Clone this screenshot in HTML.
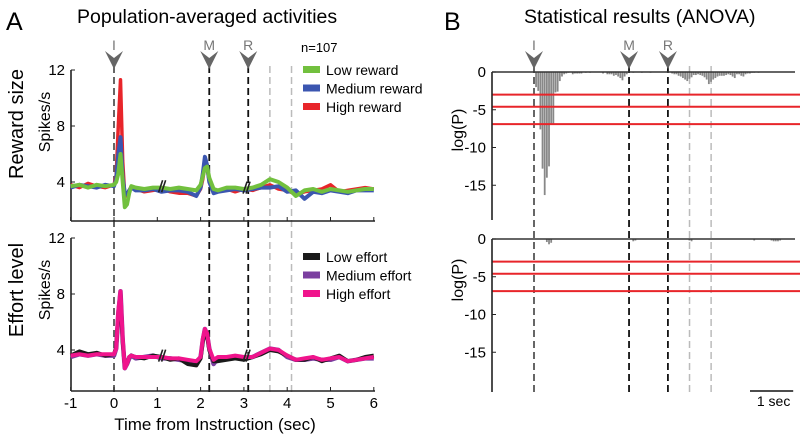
<!DOCTYPE html>
<html><head><meta charset="utf-8"><style>
body{margin:0;background:#fff;width:800px;height:438px;overflow:hidden}
svg{font-family:"Liberation Sans",sans-serif}
</style></head><body>
<svg id="fig" width="800" height="438" viewBox="0 0 800 438"></svg>
<script>
const times=[-1,-0.8,-0.6,-0.4,-0.2,0,0.05,0.1,0.15,0.2,0.25,0.3,0.35,0.4,0.5,0.7,0.9,1.1,1.3,1.5,1.7,1.9,2.0,2.05,2.1,2.15,2.2,2.3,2.4,2.6,2.8,3.0,3.2,3.4,3.6,3.8,4.0,4.2,4.4,4.6,4.8,5.0,5.2,5.4,5.6,5.8,6.0];
const lowReward=[3.7,3.8,3.6,3.8,3.7,3.8,4.0,4.6,6.0,4.0,2.2,2.4,3.2,3.7,3.6,3.5,3.6,3.6,3.5,3.6,3.5,3.4,3.8,4.4,5.0,5.1,4.3,3.5,3.4,3.6,3.6,3.5,3.6,3.8,4.2,4.0,3.6,3.0,3.4,3.5,3.3,3.5,3.4,3.3,3.4,3.5,3.5];
const medReward=[3.6,3.8,3.7,3.6,3.8,3.7,4.2,6.0,7.2,4.3,3.2,3.1,3.4,3.6,3.4,3.4,3.5,3.3,3.4,3.4,3.3,3.0,3.6,4.6,5.8,5.2,4.0,3.2,3.3,3.4,3.5,3.4,3.5,3.6,3.6,3.7,3.3,3.4,2.8,3.3,3.2,3.4,3.3,3.2,3.4,3.4,3.4];
const highReward=[3.8,3.6,3.9,3.7,3.6,3.8,4.5,8.0,11.3,5.5,3.0,3.0,3.4,3.7,3.5,3.3,3.4,3.5,3.3,3.2,3.2,3.0,3.5,4.2,5.2,5.0,4.0,3.3,3.4,3.5,3.3,3.5,3.4,3.6,3.8,3.5,3.4,3.1,3.3,3.4,3.5,3.8,3.3,3.4,3.5,3.6,3.5];
const lowEffort=[3.6,3.9,3.7,3.8,3.6,3.7,4.2,6.5,8.0,4.6,2.8,3.0,3.5,3.6,3.5,3.4,3.6,3.5,3.3,3.4,3.0,2.9,3.4,4.6,5.4,5.0,4.0,3.2,3.2,3.3,3.4,3.3,3.5,3.7,4.0,3.9,3.6,3.3,3.3,3.5,3.2,3.4,3.6,3.2,3.3,3.5,3.6];
const medEffort=[3.5,3.7,3.6,3.7,3.6,3.6,4.1,6.6,8.2,4.7,2.7,3.0,3.4,3.6,3.4,3.5,3.6,3.4,3.4,3.3,3.2,3.1,3.5,4.7,5.5,5.1,4.1,3.0,3.4,3.4,3.5,3.4,3.5,3.8,4.1,4.0,3.5,3.3,3.3,3.4,3.3,3.3,3.5,3.2,3.3,3.4,3.4];
const highEffort=[3.6,3.7,3.6,3.7,3.7,3.7,4.1,6.8,8.2,4.8,2.7,3.0,3.5,3.6,3.5,3.5,3.5,3.5,3.4,3.4,3.3,3.2,3.5,4.8,5.5,5.2,4.1,3.3,3.5,3.5,3.6,3.5,3.5,3.8,4.1,4.0,3.6,3.3,3.4,3.5,3.3,3.4,3.5,3.2,3.3,3.4,3.5];
const yTicks=[4,8,12];
const xTicks=[-1,0,1,2,3,4,5,6];
const pTicks=[0,-5,-10,-15];
const thresholds=[-3,-4.6,-6.9];
const rewardBarTimes=[0.05,0.1,0.15,0.2,0.25,0.3,0.35,0.4,0.45,0.5,0.55,0.6,0.65,0.7,0.75,0.8,0.9,0.95,1.0,1.05,1.1,1.2,1.3,1.6,1.7,1.75,1.8,1.85,1.9,1.95,2.0,2.05,2.1,2.15,2.3,2.5,2.7,3.1,3.2,3.25,3.3,3.35,3.4,3.45,3.5,3.55,3.6,3.65,3.7,3.75,3.8,3.85,3.9,3.95,4.0,4.05,4.1,4.15,4.2,4.25,4.3,4.35,4.4,4.45,4.5,4.55,4.6,4.65,4.7,4.75,4.8,4.85,4.9,4.95,5.0,5.05,5.1,5.2];
const rewardBarVals=[-2,-2.5,-7.6,-12.8,-16.3,-14,-12.5,-7,-6.9,-2.7,-2.6,-1.2,-0.6,-0.3,-0.2,-0.1,-0.3,-0.2,-0.2,-0.2,-0.2,-0.1,-0.1,-0.2,-0.3,-0.3,-0.3,-0.5,-0.4,-0.6,-0.8,-1.1,-0.6,-0.3,-0.1,-0.1,-0.1,-0.1,-0.2,-0.3,-0.3,-0.5,-0.6,-0.8,-1.0,-1.2,-0.9,-0.7,-0.4,-0.4,-0.3,-0.4,-0.5,-0.7,-1.0,-1.6,-1.3,-1.0,-0.8,-0.6,-0.5,-0.5,-0.5,-0.4,-0.3,-0.4,-0.6,-0.8,-0.3,-0.3,-0.5,-0.6,-0.3,-0.2,-0.2,-0.1,-0.1,-0.1];
const effortBarTimes=[0.3,0.35,0.4,2.3,2.35,3.6,3.65,5.1,5.5,5.55,5.6,5.65,5.7];
const effortBarVals=[-0.4,-0.7,-0.5,-0.3,-0.2,-0.2,-0.3,-0.2,-0.2,-0.3,-0.3,-0.3,-0.2];
const events=[{t:0,l:"I",c:"#555"},{t:2.2,l:"M",c:"#111"},{t:3.1,l:"R",c:"#111"}];
const grayEvents=[3.6,4.1];

const svg=document.getElementById('fig');
const NS="http://www.w3.org/2000/svg";
function el(tag,attrs,parent){const e=document.createElementNS(NS,tag);for(const k in attrs)e.setAttribute(k,attrs[k]);(parent||svg).appendChild(e);return e;}
function txt(s,attrs,parent){const e=el('text',attrs,parent);e.textContent=s;return e;}
const xL=t=>114+t*43.3;
const xR=t=>534+t*43.2;
const yTop=v=>182-(v-4)*14;
const yBot=v=>350-(v-4)*14;
const pT=v=>72-v*7.55;
const pB=v=>239-v*7.55;

let t;
t=txt("A",{x:6,y:30,'font-size':25});
t=txt("Population-averaged activities",{x:77,y:23,'font-size':19.5});
t=txt("B",{x:444,y:30,'font-size':25});
t=txt("Statistical results (ANOVA)",{x:524,y:23,'font-size':19.5});

t=txt("Reward size",{x:0,y:0,'font-size':20,'text-anchor':'middle',transform:'translate(23,124) rotate(-90)'});
t=txt("Effort level",{x:0,y:0,'font-size':20,'text-anchor':'middle',transform:'translate(23,290) rotate(-90)'});
[[122,'spikes-label-top'],[290,'spikes-label-bottom']].forEach(([cy,n])=>{
 const s=txt("Spikes/s",{x:0,y:0,'font-size':16,'text-anchor':'middle',transform:`translate(50,${cy}) rotate(-90)`});
 });
[[130,'logp-label-top'],[280,'logp-label-bottom']].forEach(([cy,n])=>{
 const s=txt("log(P)",{x:0,y:0,'font-size':16,'text-anchor':'middle',transform:`translate(463,${cy}) rotate(-90)`});
 });

function vlines(xf,y1,y2){
 events.forEach(e=>{const l=el('line',{x1:xf(e.t),x2:xf(e.t),y1:y1,y2:y2,stroke:e.c,'stroke-width':1.8,'stroke-dasharray':'7,4'});
  });
 grayEvents.forEach(g=>{const l=el('line',{x1:xf(g),x2:xf(g),y1:y1,y2:y2,stroke:'#bbb','stroke-width':1.5,'stroke-dasharray':'7,4'});
  });
}
vlines(xL,66,392);
vlines(xR,66,392);
function arrows(xf){
 events.forEach(e=>{const x=xf(e.t);
  const a=el('path',{d:`M${x-9},51 L${x},58 L${x+9},51 L${x},69 Z`,fill:'#666'});
  
  const s=txt(e.l,{x:x,y:50,'font-size':14,'text-anchor':'middle',fill:'#777'});
  });
}
arrows(xL);arrows(xR);

function leftAxes(yf,top,bottom,name){
 const g=el('g',{});
 el('line',{x1:71,x2:71,y1:top,y2:bottom,stroke:'#222','stroke-width':1.6},g);
 el('line',{x1:71,x2:375,y1:bottom,y2:bottom,stroke:'#222','stroke-width':1.6},g);
 yTicks.forEach(v=>{el('line',{x1:71,x2:75,y1:yf(v),y2:yf(v),stroke:'#222'},g);
  const s=txt(String(v),{x:65,y:yf(v)+5,'font-size':15,'text-anchor':'end'},g);
  });
 xTicks.forEach(v=>el('line',{x1:xL(v),x2:xL(v),y1:bottom,y2:bottom-4,stroke:'#222'},g));
}
leftAxes(yTop,70,221,'reward-axes');
leftAxes(yBot,238,391,'effort-axes');
xTicks.forEach(v=>{const s=txt(String(v),{x:xL(v),y:408,'font-size':15,'text-anchor':'middle'});
 });
t=txt("Time from Instruction (sec)",{x:215,y:430,'font-size':17,'text-anchor':'middle'});

function trace(vals,yf,color,name,w){
 const d=vals.map((v,i)=>(i?'L':'M')+xL(times[i]).toFixed(1)+','+yf(v).toFixed(1)).join(' ');
 const p=el('path',{d:d,fill:'none',stroke:color,'stroke-width':w,'stroke-linejoin':'round'});
 
}
trace(highReward,yTop,'#e8252a','trace-high-reward',3.5);
trace(medReward,yTop,'#3b56b0','trace-medium-reward',4);
trace(lowReward,yTop,'#72c03e','trace-low-reward',4);
trace(medEffort,yBot,'#7b3fa0','trace-medium-effort',4.5);
trace(lowEffort,yBot,'#1a1a1a','trace-low-effort',4);
trace(highEffort,yBot,'#f0148c','trace-high-effort',4);
[[1.1,yTop(3.7)],[3.05,yTop(3.6)],[1.1,yBot(3.6)],[3.05,yBot(3.6)]].forEach(([tt,y])=>{
 const b=el('path',{d:`M${xL(tt)-3},${y+6} L${xL(tt)+1},${y-6} M${xL(tt)},${y+6} L${xL(tt)+4},${y-6}`,stroke:'#222','stroke-width':1.6});
 });

t=txt("n=107",{x:301,y:52,'font-size':13});
function legend(items,y0,name){
 const g=el('g',{});
 items.forEach(([lab,c],i)=>{const y=y0+i*18.5;
  const r=el('rect',{x:303,y:y-4,width:17,height:7,fill:c},g);
  
  const s=txt(lab,{x:326,y:y+5,'font-size':14},g);
  });
}
legend([["Low reward","#72c03e"],["Medium reward","#3b56b0"],["High reward","#e8252a"]],70,'reward-legend');
legend([["Low effort","#1a1a1a"],["Medium effort","#7b3fa0"],["High effort","#f0148c"]],257,'effort-legend');

function rightPanel(pf,top,bottom,bt,bv,name){
 const g=el('g',{});
 bt.forEach((tt,i)=>{const x=xR(tt);const y0=pf(0),y1=pf(bv[i]);
  const r=el('rect',{x:x-1,y:y0,width:1.8,height:Math.max(0.5,y1-y0),fill:'#888'},g);
  });
 thresholds.forEach(v=>{const l=el('line',{x1:492,x2:800,y1:pf(v),y2:pf(v),stroke:'#e8252a','stroke-width':2},g);
  });
 el('line',{x1:492,x2:492,y1:top,y2:bottom,stroke:'#222','stroke-width':1.6},g);
 el('line',{x1:492,x2:795,y1:pf(0),y2:pf(0),stroke:'#333','stroke-width':1.6},g);
 pTicks.forEach(v=>{el('line',{x1:492,x2:496,y1:pf(v),y2:pf(v),stroke:'#222'},g);
  const s=txt(String(v),{x:486,y:pf(v)+5,'font-size':15,'text-anchor':'end'},g);
  });
}
rightPanel(pT,72,220,rewardBarTimes,rewardBarVals,'reward-anova-panel');
rightPanel(pB,239,392,effortBarTimes,effortBarVals,'effort-anova-panel');
const sb=el('line',{x1:xR(5),x2:xR(6),y1:391,y2:391,stroke:'#111','stroke-width':1.6});

t=txt("1 sec",{x:xR(5.5)+2,y:406,'font-size':14,'text-anchor':'middle'});
</script>
</body></html>
